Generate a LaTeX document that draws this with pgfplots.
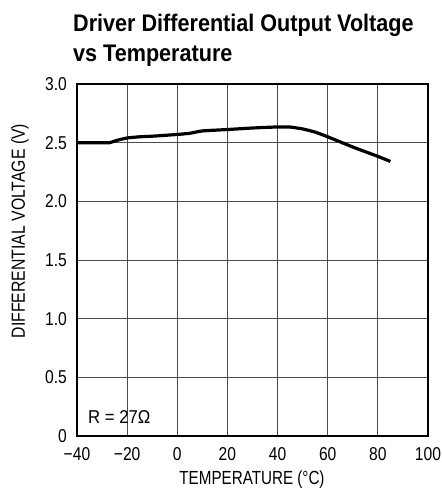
\documentclass[border=0pt]{standalone}
\usepackage{pgfplots}
\pgfplotsset{compat=1.18}
\usepackage{fontspec}
\setmainfont{Liberation Sans}
\newfontfamily\titlefont[FakeStretch=0.9]{Liberation Sans}
\newfontfamily\tickfont[FakeStretch=0.84]{Liberation Sans}
\newfontfamily\xlabfont[FakeStretch=0.8]{Liberation Sans}
\newfontfamily\ylabfont[FakeStretch=0.83]{Liberation Sans}
\newfontfamily\rfont[FakeStretch=0.9]{Liberation Sans}
\begin{document}
\begin{tikzpicture}
\path[use as bounding box] (0bp,0bp) rectangle (442bp,491bp);
\begin{axis}[
  at={(77bp,55bp)}, anchor=south west,
  scale only axis, width=351bp, height=352bp,
  xmin=-40, xmax=100, ymin=0, ymax=3,
  xtick={-40,-20,0,20,40,60,80,100},
  xticklabels={−40,−20,0,20,40,60,80,100},
  ytick={0,0.5,1,1.5,2,2.5,3},
  yticklabels={0,0.5,1.0,1.5,2.0,2.5,3.0},
  major tick length=0pt,
  grid=major,
  major grid style={line width=0.9bp, color=black!70},
  axis line style={line width=1.5bp, black},
  tick label style={font=\tickfont\fontsize{18.6bp}{21bp}\selectfont, inner sep=0pt},
  yticklabel style={anchor=east, xshift=-10bp},
  xticklabel style={anchor=north, yshift=-11bp},
  clip=false,
]
\addplot[black, line width=3.2bp, smooth, tension=0.3] coordinates {
(-40,2.50) (-30,2.50) (-27,2.50) (-24,2.52) (-20,2.54) (-15,2.55) (-10,2.555)
(0,2.57) (5,2.58) (10,2.60) (20,2.612) (30,2.625) (40,2.634) (45,2.633)
(50,2.617) (55,2.59) (60,2.55) (70,2.463) (80,2.383) (85,2.34)
};
\end{axis}
\node[anchor=base west, inner sep=0] at (73bp,459bp) {\titlefont\bfseries\fontsize{24bp}{29bp}\selectfont Driver Differential Output Voltage};
\node[anchor=base west, inner sep=0] at (73bp,429bp) {\titlefont\bfseries\fontsize{24bp}{29bp}\selectfont vs Temperature};
\node[anchor=west, inner sep=0] at (88bp,74bp) {\rfont\fontsize{18.6bp}{21bp}\selectfont R = 27Ω};
\node[rotate=90, inner sep=0] at (20bp,260bp) {\ylabfont\fontsize{19bp}{21bp}\selectfont DIFFERENTIAL VOLTAGE (V)};
\node[inner sep=0] at (252bp,11.5bp) {\xlabfont\fontsize{19bp}{21bp}\selectfont TEMPERATURE (°C)};
\end{tikzpicture}
\end{document}
